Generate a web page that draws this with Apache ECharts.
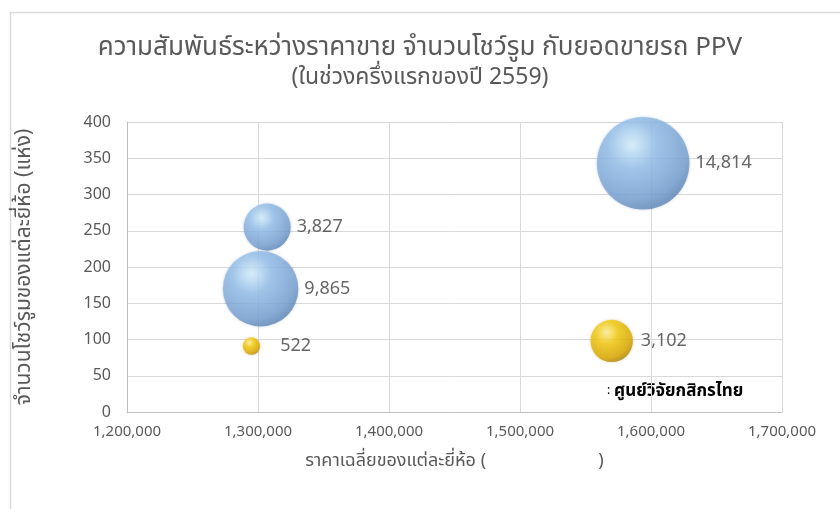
<!DOCTYPE html>
<html>
<head>
<meta charset="utf-8">
<script src="https://cdn.jsdelivr.net/npm/echarts@6/dist/echarts.min.js"></script>
<style>html,body{margin:0;padding:0;background:#fff}#c{width:840px;height:509px}</style>
</head>
<body>
<div id="c"></div>
<script>
var titleText = 'ความสัมพันธ์ระหว่างราคาขาย จำนวนโชว์รูม กับยอดขายรถ PPV';
var subtitleText = '(ในช่วงครึ่งแรกของปี 2559)';
var xAxisName = 'ราคาเฉลี่ยของแต่ละยี่ห้อ (                        )';
var yAxisName = 'จำนวนโชว์รูมของแต่ละยี่ห้อ (แห่ง)';
var sourceText = 'ศูนย์วิจัยกสิกรไทย';

// [avg price, showrooms, sales]
var blueSeries = [
  [1594000, 343, 14814],
  [1307000, 255, 3827],
  [1302000, 170, 9865]
];
var goldSeries = [
  [1295000, 91, 522],
  [1570000, 98, 3102]
];
var goldLabelGap = [20, 8];

var FONT = '"Noto Sans", "Noto Sans Thai", "Liberation Sans", sans-serif';

function sz(v) { return 2 * 0.38 * Math.sqrt(v[2]); }

var chart = echarts.init(document.getElementById('c'));
chart.setOption({
  backgroundColor: '#fff',
  animation: false,
  title: [{
    text: titleText,
    left: 'center', top: 30,
    textStyle: { fontFamily: FONT, fontSize: 26, fontWeight: 'normal', color: '#595959' }
  }, {
    text: subtitleText,
    left: 'center', top: 61,
    textStyle: { fontFamily: FONT, fontSize: 23, fontWeight: 'normal', color: '#595959' }
  }],
  graphic: [{
    type: 'rect',
    shape: { x: 10.5, y: 12.5, width: 840, height: 510 },
    style: { fill: 'none', stroke: '#d9d9d9', lineWidth: 1.5 },
    silent: true
  }, {
    type: 'text',
    left: 607, top: 385,
    style: { text: ':', font: '12px ' + FONT, fill: '#000' }
  }, {
    type: 'text',
    left: 614, top: 383,
    style: { text: sourceText, font: 'bold 17px ' + FONT, fill: '#000' }
  }],
  grid: { left: 127, right: 58, top: 122, bottom: 97 },
  xAxis: {
    type: 'value', min: 1200000, max: 1700000, interval: 100000,
    name: xAxisName, nameLocation: 'middle', nameGap: 40,
    nameTextStyle: { fontFamily: FONT, fontSize: 18, color: '#595959' },
    axisLine: { show: true, lineStyle: { color: '#bfbfbf' } },
    axisTick: { show: false },
    axisLabel: { fontFamily: FONT, fontSize: 15, color: '#595959', margin: 12,
      formatter: function (v) { return v.toLocaleString('en-US'); } },
    splitLine: { show: true, lineStyle: { color: '#d9d9d9' } }
  },
  yAxis: {
    type: 'value', min: 0, max: 400, interval: 50,
    name: yAxisName, nameLocation: 'middle', nameGap: 92, nameRotate: 90,
    nameTextStyle: { fontFamily: FONT, fontSize: 21, color: '#595959' },
    axisLine: { show: true, lineStyle: { color: '#bfbfbf' } },
    axisTick: { show: false },
    axisLabel: { fontFamily: FONT, fontSize: 16, color: '#595959', margin: 16 },
    splitLine: { show: true, lineStyle: { color: '#d9d9d9' } }
  },
  series: [{
    type: 'scatter',
    data: blueSeries,
    symbolSize: sz,
    itemStyle: {
      color: new echarts.graphic.RadialGradient(0.38, 0.3, 0.75, [
        { offset: 0, color: '#d9f4ff' },
        { offset: 0.35, color: '#96c1ea' },
        { offset: 0.8, color: '#76a0d0' },
        { offset: 1, color: '#5a82b2' }
      ]),
      shadowBlur: 3, shadowColor: 'rgba(80,110,160,0.4)'
    },
    label: {
      show: true, position: 'right', distance: 6,
      fontFamily: FONT, fontSize: 18, color: '#404040',
      formatter: function (p) { return p.value[2].toLocaleString('en-US'); }
    }
  }, {
    type: 'scatter',
    data: goldSeries.map(function (d, i) {
      return { value: d, label: { distance: goldLabelGap[i] } };
    }),
    symbolSize: sz,
    itemStyle: {
      color: new echarts.graphic.RadialGradient(0.38, 0.3, 0.75, [
        { offset: 0, color: '#fff3a0' },
        { offset: 0.35, color: '#f5cc10' },
        { offset: 0.8, color: '#d9a800' },
        { offset: 1, color: '#a67c00' }
      ]),
      shadowBlur: 3, shadowColor: 'rgba(160,120,0,0.4)'
    },
    label: {
      show: true, position: 'right', distance: 16,
      fontFamily: FONT, fontSize: 18, color: '#404040',
      formatter: function (p) { return p.value[2].toLocaleString('en-US'); }
    }
  }]
});
</script>
</body>
</html>
